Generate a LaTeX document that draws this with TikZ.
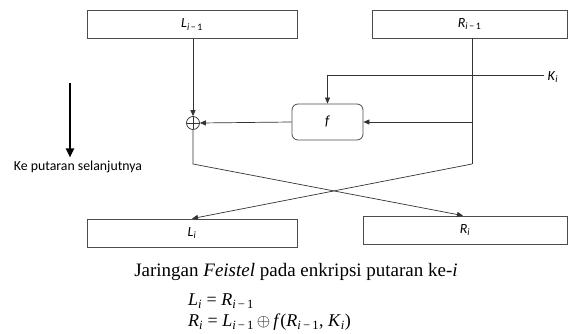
\documentclass[tikz,border=0pt]{standalone}
\usepackage{fontspec}
\setmainfont{Carlito}
\newfontfamily\capfont{Liberation Serif}
\usetikzlibrary{positioning, arrows.meta, calc}
\tikzstyle{blockbox} =[draw=black!70, line width=0.8pt, minimum height=28pt, inner sep=0pt, font=\fontsize{14}{16}\selectfont]
\tikzstyle{flow} =[-{Triangle[length=6pt,width=5pt]}, line width=0.7pt, black!80]
\newcommand{\subm}{\textsubscript{\textit{i}\,−\,1}}

\begin{document}
\begin{tikzpicture}[x=1pt, y=-1pt]
\useasboundingbox (0,0) rectangle (570,334);

\node (Lprev) [blockbox, minimum width=210pt] at (192,24.5) {\textit{L}\subm};
\node (Rprev) [blockbox, minimum width=195pt] at (469.5,24) {\textit{R}\subm};

\node (func) [blockbox, rounded corners=6pt, minimum width=71pt, minimum height=36pt] at (327.5,122) {\textit{f}};
\node (xor) [circle, draw=black!80, line width=0.7pt, minimum size=13pt, inner sep=0pt,
  path picture={\draw[black!80, line width=0.7pt] (path picture bounding box.north) -- (path picture bounding box.south) (path picture bounding box.west) -- (path picture bounding box.east);}] at (193,123) {};

\node (key) [font=\fontsize{14}{16}\selectfont, anchor=west] at (544,77) {\textit{K}\textsubscript{\textit{i}}};

\node (Lnext) [blockbox, minimum width=210pt] at (192,233) {\textit{L}\textsubscript{\textit{i}}};
\node (Rnext) [blockbox, minimum width=204pt] at (465,230) {\textit{R}\textsubscript{\textit{i}}};

\coordinate (rsplit) at (472,122);
\coordinate (rbend) at (472,164);
\coordinate (lbend) at (193,164);
\coordinate (kbend) at (327.5,75);

\draw[flow] (Lprev.south -| xor) -- (xor);
\draw[black!80, line width=0.7pt] (Rprev.south -| rbend) -- (rbend);
\draw[black!80, line width=0.7pt] (key.west |- kbend) -- (kbend);
\draw[flow] (kbend) -- (func.north);
\draw[flow] (rsplit) -- (func.east);
\draw[flow] (func.west) -- (xor.east);

\draw[flow] (xor.south) -- (lbend) -- ($(Rnext.north)+(-2,0)$);
\draw[flow] (rbend) -- (Lnext.north);

% arah ke putaran berikutnya
\node (next) [font=\fontsize{13.8}{16}\selectfont] at (78,167) {Ke putaran selanjutnya};
\coordinate (ntop) at (70,83);
\draw[-{Triangle[length=9pt,width=8pt]}, line width=2.2pt] (ntop) -- (next.north -| ntop);

\node (caption) [font=\capfont\fontsize{19}{21}\selectfont] at (296,272) {Jaringan \textit{Feistel} pada enkripsi putaran ke-\textit{i}};
\node (eqa) [font=\capfont\fontsize{18}{20}\selectfont, anchor=west, inner sep=0pt] at (188,301) {\textit{L}\textsubscript{\textit{i}} = \textit{R}\subm};
\node (eqb) [font=\capfont\fontsize{18}{20}\selectfont, anchor=west, inner sep=0pt] at (188,322) {\textit{R}\textsubscript{\textit{i}} = \textit{L}\subm\,$\oplus$\,\textit{f}(\textit{R}\subm, \textit{K}\textsubscript{\textit{i}})};
\end{tikzpicture}
\end{document}
